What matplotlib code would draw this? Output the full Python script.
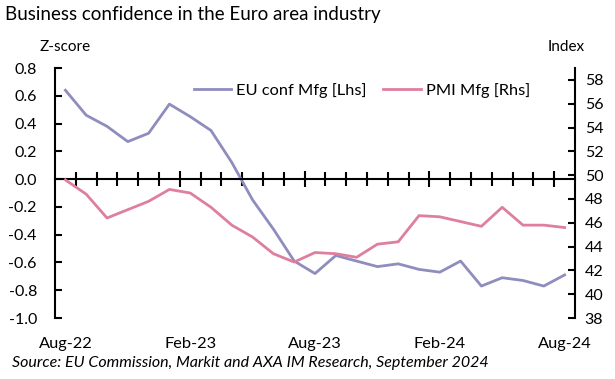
import numpy as np
import matplotlib.pyplot as plt
from matplotlib.ticker import FixedLocator
import matplotlib.transforms as mtransforms

plt.rcParams['font.family'] = ['Lato', 'DejaVu Sans']

months = ['Aug-22', 'Sep-22', 'Oct-22', 'Nov-22', 'Dec-22', 'Jan-23', 'Feb-23', 'Mar-23',
          'Apr-23', 'May-23', 'Jun-23', 'Jul-23', 'Aug-23', 'Sep-23', 'Oct-23', 'Nov-23',
          'Dec-23', 'Jan-24', 'Feb-24', 'Mar-24', 'Apr-24', 'May-24', 'Jun-24', 'Jul-24', 'Aug-24']
eu_conf = [0.64, 0.46, 0.38, 0.27, 0.33, 0.54, 0.45, 0.35, 0.12, -0.15, -0.36, -0.59, -0.68,
           -0.55, -0.59, -0.63, -0.61, -0.65, -0.67, -0.59, -0.77, -0.71, -0.73, -0.77, -0.69]
pmi = [49.6, 48.4, 46.4, 47.1, 47.8, 48.8, 48.5, 47.3, 45.8, 44.8, 43.4, 42.7, 43.5, 43.4,
       43.1, 44.2, 44.4, 46.6, 46.5, 46.1, 45.7, 47.3, 45.8, 45.8, 45.6]
label_months = ['Aug-22', 'Feb-23', 'Aug-23', 'Feb-24', 'Aug-24']
z_ticks = [-1.0, -0.8, -0.6, -0.4, -0.2, 0.0, 0.2, 0.4, 0.6, 0.8]
idx_ticks = [38, 40, 42, 44, 46, 48, 50, 52, 54, 56, 58]

x = np.arange(len(months))

fig = plt.figure(figsize=(6.15, 3.79), dpi=100)
ax = fig.add_axes([55/615, 1-318/379, 520/615, 250/379])
ax2 = ax.twinx()

l1, = ax.plot(x, eu_conf, color='#8E8DBE', lw=2.0, label='EU conf Mfg [Lhs]')
l2, = ax2.plot(x, pmi, color='#DF7FA0', lw=2.0, label='PMI Mfg [Rhs]')

ax.set_xlim(-0.5, len(months)-0.5)
ax.set_ylim(-1.0, 0.8)
ax2.set_ylim(38, 59)
ax.set_yticks(z_ticks)
ax.set_yticklabels([f'{abs(v):.1f}' if v == 0 else f'{v:.1f}' for v in z_ticks])
ax2.set_yticks(idx_ticks)

for a in (ax, ax2):
    a.spines['top'].set_visible(False)
ax.spines['right'].set_visible(False)
ax2.spines['bottom'].set_visible(False)
ax2.spines['left'].set_visible(False)
ax.spines['bottom'].set_position(('data', 0))
for s in ['left', 'bottom']:
    ax.spines[s].set_linewidth(1.5)
ax2.spines['right'].set_linewidth(1.5)

# category boundary ticks on the zero line
bounds = np.arange(-0.5, len(months), 1.0)
major = [b for b in bounds if (b + 0.5) % 6 == 0 and b > 0]
minor = [b for b in bounds if b not in major and -0.5 < b < len(months)-0.5]
ax.xaxis.set_major_locator(FixedLocator(major))
ax.xaxis.set_minor_locator(FixedLocator(minor))
ax.tick_params(axis='x', which='major', direction='inout', length=12, width=1.5, labelbottom=False)
ax.tick_params(axis='x', which='minor', direction='inout', length=10, width=1.5)
ax.tick_params(axis='y', direction='in', length=5, width=1.5, labelsize=11.5, pad=13)
ax2.tick_params(axis='y', direction='in', length=5, width=1.5, labelsize=11.5, pad=7)

trans = mtransforms.blended_transform_factory(ax.transData, ax.transAxes)
for m in label_months:
    ax.text(months.index(m), -0.075, m, transform=trans, ha='center', va='top', fontsize=11.8)

fig.text(0.008, 0.985, 'Business confidence in the Euro area industry', fontsize=13.5, va='top', ha='left')
fig.text(40/615, 1-47/379, 'Z-score', fontsize=11, va='center', ha='left')
fig.text(548/615, 1-47/379, 'Index', fontsize=11, va='center', ha='left')
fig.text(12/615, 1-363/379, 'Source: EU Commission, Markit and AXA IM Research, September 2024',
         fontsize=11.5, style='italic', va='center', ha='left')

ax.legend(handles=[l1, l2], loc='upper center', bbox_to_anchor=(0.59, 1.0), ncol=2, frameon=False,
          fontsize=11.8, handlelength=2.3, handletextpad=0.3, columnspacing=1.0)

fig.savefig('out.png', dpi=100)
